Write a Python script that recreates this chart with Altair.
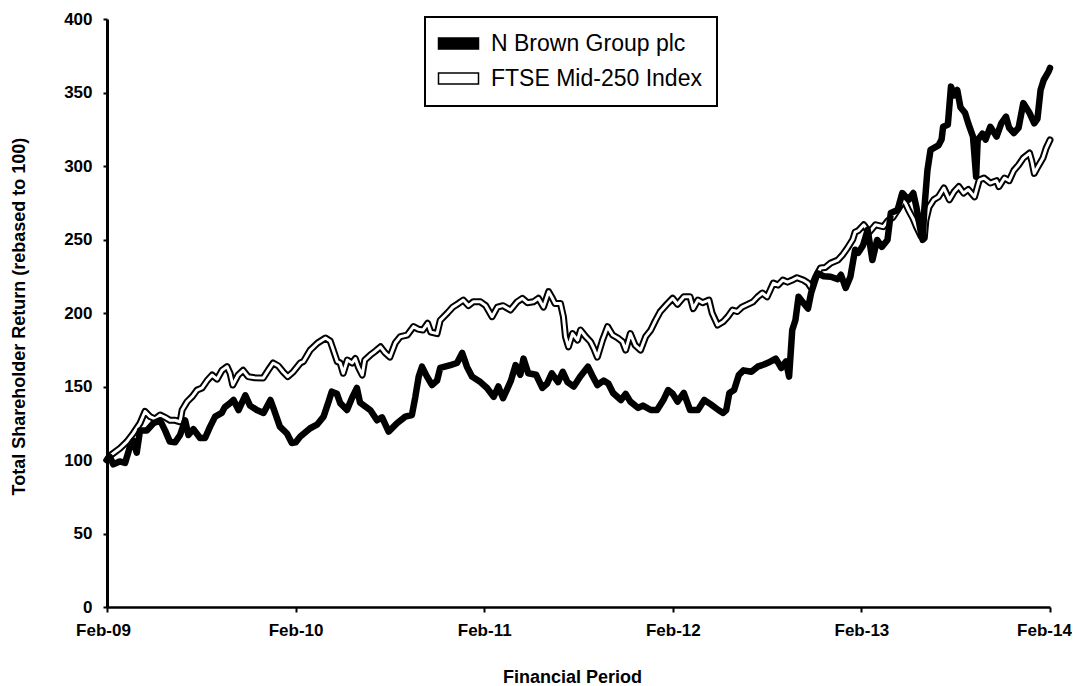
import altair as alt
import pandas as pd

series_names = ["N Brown Group plc", "FTSE Mid-250 Index"]
tick_labels = ["Feb-09", "Feb-10", "Feb-11", "Feb-12", "Feb-13", "Feb-14"]
tick_months = [0, 12, 24, 36, 48, 60]
y_ticks = [0, 50, 100, 150, 200, 250, 300, 350, 400]

# months since Feb-09
nb_months = [0, 0.19, 0.4, 0.8, 1.15, 1.46, 1.68, 1.89, 2.1, 2.53, 2.95, 3.38, 3.7, 4.0, 4.33, 4.65,
             4.97, 5.18, 5.5, 5.92, 6.24, 6.56, 6.88, 7.3, 7.5, 7.83, 8.05, 8.37, 8.8, 9.1, 9.53, 9.96,
             10.4, 10.6, 11.0, 11.45, 11.76, 12.0, 12.3, 12.93, 13.36, 13.78, 14.1, 14.3, 14.63, 14.84,
             15.27, 15.58, 15.9, 16.1, 16.75, 17.18, 17.5, 17.92, 18.45, 18.98, 19.4, 19.62, 19.83,
             20.04, 20.36, 20.68, 21.0, 21.2, 21.85, 22.27, 22.6, 22.9, 23.23, 23.76, 24.18, 24.6, 24.9,
             25.2, 25.7, 26.0, 26.3, 26.5, 26.8, 27.3, 27.7, 28.0, 28.3, 28.7, 29.0, 29.3, 29.7, 30.1,
             30.6, 30.9, 31.2, 31.6, 31.9, 32.2, 32.7, 33.0, 33.3, 33.8, 34.1, 34.6, 35.0, 35.4, 35.7,
             36.0, 36.3, 36.7, 37.1, 37.6, 38.0, 38.4, 38.9, 39.2, 39.4, 39.6, 39.9, 40.2, 40.5, 41.0,
             41.4, 41.8, 42.2, 42.55, 42.9, 43.2, 43.4, 43.6, 43.8, 44.0, 44.3, 44.6, 44.8, 45.2, 45.6,
             46.05, 46.5, 46.7, 47.0, 47.3, 47.45, 47.6, 47.8, 48.1, 48.4, 48.7, 49.0, 49.3, 49.66,
             49.87, 50.3, 50.6, 51.0, 51.3, 51.5, 51.8, 51.9, 52.0, 52.2, 52.4, 52.9, 53.1, 53.2, 53.5,
             53.7, 53.9, 54.1, 54.3, 54.6, 54.8, 55.1, 55.3, 55.4, 55.7, 55.9, 56.2, 56.6, 56.9, 57.2,
             57.4, 57.7, 58.0, 58.3, 58.7, 59.0, 59.2, 59.4, 59.6, 59.9, 60.0]
nb_values = [100, 102, 97, 99, 98, 109, 113, 105, 120, 120, 125, 127, 120, 112.5, 112, 117,
             127, 117, 121, 115, 115, 122.7, 129.5, 132, 136, 138.7, 140.8, 134, 144, 137, 134, 132,
             140.8, 135, 122.7, 118, 111.6, 112, 116, 121.6, 124, 129.5, 139.7, 146.5, 145, 138.7,
             134, 142, 149, 139, 134, 127, 129, 119.3, 125, 129.5, 130.6, 143, 156.7,
             163.5, 156.7, 151, 154, 162.6, 164.6, 166, 172.8, 163.5, 156.7, 153, 149, 143, 150,
             142, 154, 164.6, 158, 169, 159, 158, 149, 152, 159, 153, 160, 153, 150, 156.7,
             163.5, 157, 151, 154, 152, 145.6, 140.8, 145, 139.7, 135.4, 137, 134, 134, 140.8, 147.6,
             145, 139.7, 145.6, 134, 134, 140.8, 138, 134, 132, 134, 145.6, 147.6, 157.8, 161, 160,
             163.5, 165, 166.9, 169, 162.6, 167, 156.7, 188.4, 195, 211, 207, 203, 213.6, 227, 225,
             224.7, 223, 226, 217, 224.7, 234, 243, 241, 246, 256.5, 236, 249.7, 245, 249.7,
             268, 270, 281.6, 277, 281.6, 272, 254, 249.7, 270, 297, 311, 314, 318, 326.7, 328,
             354, 348, 351.7, 340, 336, 329, 320, 292.7, 317.7, 322, 318, 326.7, 320, 329, 333.5,
             326, 322.4, 326, 342.8, 336, 329, 332, 351.7, 358.5, 364, 366.7]

ftse_months = [0, 0.2, 0.83, 1.27, 1.66, 2.1, 2.42, 2.74, 3.06, 3.38, 3.7, 4.0, 4.33, 4.65, 4.78, 5.1,
               5.41, 5.73, 6.05, 6.37, 6.69, 7.0, 7.32, 7.64, 7.83, 8.0, 8.34, 8.66, 8.98, 9.4, 9.94,
               10.25, 10.57, 10.9, 11.2, 11.5, 11.85, 12.3, 12.5, 12.93, 13.4, 13.9, 14.2, 14.4, 14.65,
               14.84, 15.03, 15.29, 15.6, 15.8, 16.0, 16.24, 16.4, 16.75, 17.07, 17.4, 17.7, 18.0,
               18.34, 18.66, 19.1, 19.5, 19.8, 20.1, 20.4, 20.6, 21.0, 21.2, 21.66, 22.0, 22.36, 22.67,
               23.0, 23.3, 23.76, 24.1, 24.5, 24.84, 25.2, 25.67, 26.1, 26.43, 26.75, 27.13, 27.45,
               27.77, 28.1, 28.34, 28.5, 28.85, 29.04, 29.17, 29.36, 29.62, 29.94, 30.13, 30.45, 30.76,
               30.96, 31.2, 31.53, 31.85, 32.17, 32.5, 32.8, 33.0, 33.3, 33.6, 33.95, 34.27, 34.6, 34.9,
               35.2, 35.67, 35.99, 36.3, 36.7, 37.1, 37.3, 37.6, 37.9, 38.3, 38.5, 38.85, 39.2, 39.5,
               39.8, 40.1, 40.4, 40.8, 41.1, 41.4, 41.7, 42.0, 42.4, 42.7, 43.0, 43.3, 43.6, 43.9, 44.3,
               44.6, 44.8, 45.1, 45.4, 45.7, 46.05, 46.5, 46.8, 47.1, 47.45, 47.6, 47.8, 48.15, 48.5,
               48.9, 49.4, 49.7, 50.0, 50.3, 50.7, 51.0, 51.3, 51.5, 51.8, 52.0, 52.1, 52.3, 52.6, 52.9,
               53.25, 53.6, 53.9, 54.2, 54.5, 54.8, 55.2, 55.5, 55.8, 56.2, 56.6, 56.75, 57.1, 57.4,
               57.7, 58.0, 58.3, 58.7, 58.85, 59.0, 59.2, 59.55, 59.75, 60.0]
ftse_values = [100, 103, 108, 112.5, 118, 125, 133, 129.5, 128, 130.6, 129, 127, 127, 126, 134, 139.7,
               143, 147.6, 149, 154, 157.8, 155, 161, 163.5, 159, 151, 157.8, 161, 156.7, 156, 155.8,
               161, 166, 164, 160, 156.7, 160, 166, 167, 174.8, 179.6, 183, 181, 174.8, 167,
               166, 159, 168, 166, 169, 163, 157.8, 168, 171.4, 174, 177, 172.8, 170,
               179.6, 183.9, 185, 190.7, 189, 188.4, 193, 187, 186, 195, 200, 204, 206.5, 208.8,
               205, 207.6, 207.6, 205, 197.5, 204, 205, 202, 207.6, 210, 207, 207.6, 210,
               204, 214.5, 210, 206.5, 206.5, 197.5, 183.9, 177, 186, 181.6, 188.4, 184, 180.5,
               176.2, 170, 181.6, 190.7, 185, 183, 180.5, 174.8, 186, 178.2, 174.8, 183.9, 188.4, 195,
               200.9, 206.5, 210, 206, 211, 211, 203, 208.8, 207, 208.8, 200, 191.8, 194, 197.5,
               202, 201, 204, 206, 207.6, 211, 213.6, 211, 220.4, 219, 222.4, 221, 222.4, 224, 222.4,
               220.4, 217, 224.7, 230.6, 231, 234, 236, 239.5, 244, 250, 255, 256, 260, 255,
               260, 258.7, 263, 265, 270, 277, 270, 264, 258.7, 252, 251, 263, 272, 277, 279,
               285, 277, 282.5, 286, 281.6, 284, 279, 290.5, 291.8, 288.4, 290, 286, 291.8, 290,
               297, 300.7, 305.4, 308.8, 303, 295, 299, 305.4, 312, 317.7]

df = pd.concat([
    pd.DataFrame({"month": nb_months, "value": nb_values, "series": series_names[0]}),
    pd.DataFrame({"month": ftse_months, "value": ftse_values, "series": series_names[1]}),
], ignore_index=True)

FONT = "Liberation Sans"
label_expr = "[" + ",".join(f"'{t}'" for t in tick_labels) + "][round(datum.value / 12)]"

x_enc = alt.X("month:Q",
              scale=alt.Scale(domain=[0, 60], nice=False, zero=False),
              axis=alt.Axis(values=tick_months, labelExpr=label_expr, title="Financial Period",
                            grid=False, domainColor="black", domainWidth=2.5, tickColor="black",
                            tickWidth=2, tickSize=5, labelFont=FONT, labelFontSize=17,
                            labelFontWeight="bold", labelColor="black", labelPadding=10,
                            labelFlush=False,
                            labelOffset={"condition": [{"test": "datum.value == 60", "value": -6},
                                                       {"test": "datum.value == 0", "value": -4}],
                                         "value": 0},
                            titleFont=FONT, titleFontSize=18,
                            titleFontWeight="bold", titleColor="black", titleX=465, titleY=75,
                            titleBaseline="alphabetic", titleAnchor="start", titleAlign="center"))
y_enc = alt.Y("value:Q",
              scale=alt.Scale(domain=[0, 400], nice=False),
              axis=alt.Axis(values=y_ticks, format="d",
                            title="Total Shareholder Return (rebased to 100)",
                            grid=False, domainColor="black", domainWidth=3, tickColor="black",
                            tickWidth=2, tickSize=4, labelFont=FONT, labelFontSize=17,
                            labelFontWeight="bold", labelColor="black", labelPadding=11,
                            titleFont=FONT, titleFontSize=18, titleFontWeight="bold",
                            titleColor="black", titleX=-88, titleY=297, titleAlign="center",
                            titleBaseline="middle", titleAnchor="start"))

base = alt.Chart(df)
ftse = base.transform_filter(alt.datum.series == series_names[1])
nb = base.transform_filter(alt.datum.series == series_names[0])

ftse_outer = ftse.mark_line(color="black", strokeWidth=7, strokeJoin="round", strokeCap="round").encode(x=x_enc, y=y_enc)
ftse_inner = ftse.mark_line(color="white", strokeWidth=3, strokeJoin="round", strokeCap="round").encode(x=x_enc, y=y_enc)
nb_line = nb.mark_line(color="black", strokeWidth=6.5, strokeJoin="round", strokeCap="round").encode(x=x_enc, y=y_enc)

sym_path = "M-1.3,-0.55H2.7V0.55H-1.3Z"
legend_layer = base.transform_filter("false").mark_point(
    shape=sym_path, filled=True, stroke="black", strokeWidth=1.5, opacity=1
).encode(
    fill=alt.Fill("series:N",
                  scale=alt.Scale(domain=series_names, range=["black", "white"]),
                  legend=alt.Legend(title=None, orient="none", legendX=318, legendY=-2,
                                    symbolType=sym_path, symbolSize=400,
                                    symbolStrokeColor="black", symbolStrokeWidth=1.5,
                                    labelFont=FONT, labelFontSize=23, labelColor="black",
                                    labelLimit=400, labelOffset=28, padding=15, rowPadding=11,
                                    strokeColor="black", fillColor="white"))
)

chart = alt.layer(ftse_outer, ftse_inner, nb_line, legend_layer).properties(
    width=943, height=588,
    padding={"left": 99, "top": 11, "right": 22, "bottom": 78},
    autosize=alt.AutoSizeParams(type="none"),
    background="white",
).configure_view(stroke=None).configure_legend(strokeWidth=2)

chart.save("out.html", embed_options={"renderer": "svg", "actions": False})
